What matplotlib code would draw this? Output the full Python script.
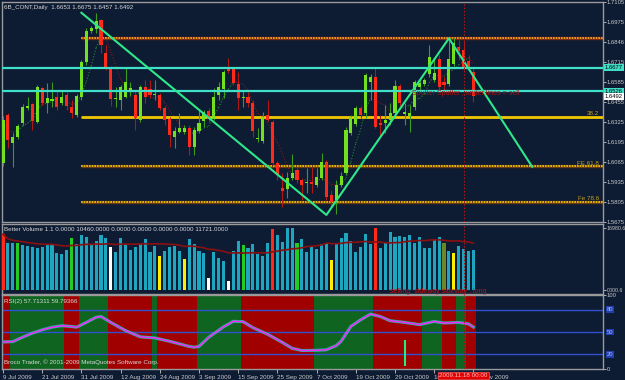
import numpy as np
import pandas as pd
import matplotlib
matplotlib.use('Agg')
import matplotlib.pyplot as plt
from matplotlib.transforms import blended_transform_factory

plt.rcParams['font.family'] = ['Liberation Sans', 'DejaVu Sans']

bg = '#0d1b33'
fs = 4.5

# daily bars, 9 Jul 2009 .. 20 Nov 2009 (index 0..96)
opens = [1.6059, 1.6371, 1.6189, 1.6228, 1.6319, 1.6416, 1.6442, 1.6325, 1.6546, 1.6449,
         1.6462, 1.6488, 1.6449, 1.6501, 1.6423, 1.6371, 1.6488, 1.6715, 1.6917, 1.6930,
         1.6988, 1.6774, 1.6676, 1.6475, 1.6468, 1.6488, 1.6533, 1.6501, 1.6338, 1.6553,
         1.6540, 1.6501, 1.6501, 1.6416, 1.6345, 1.6228, 1.6260, 1.6260, 1.6286, 1.6163,
         1.6267, 1.6332, 1.6397, 1.6345, 1.6501, 1.6540, 1.6676, 1.6670, 1.6572, 1.6481,
         1.6488, 1.6449, 1.6215, 1.6202, 1.6371, 1.6325, 1.6059, 1.5896, 1.5890, 1.5961,
         1.6013, 1.5948, 1.5929, 1.5935, 1.5916, 1.5961, 1.6065, 1.5851, 1.5818, 1.5916,
         1.5994, 1.6254, 1.6312, 1.6416, 1.6384, 1.6585, 1.6618, 1.6319, 1.6319, 1.6338,
         1.6384, 1.6559, 1.6377, 1.6364, 1.6423, 1.6553, 1.6572, 1.6637, 1.6598, 1.6735,
         1.6585, 1.6572, 1.6702, 1.6813, 1.6793, 1.6722, 1.6653]
highs = [1.6364, 1.6384, 1.6254, 1.6312, 1.6442, 1.6488, 1.6449, 1.6566, 1.6553, 1.6579,
         1.6585, 1.6533, 1.6533, 1.6520, 1.6468, 1.6507, 1.6728, 1.6936, 1.6949, 1.7034,
         1.6995, 1.6826, 1.6689, 1.6553, 1.6566, 1.6676, 1.6585, 1.6533, 1.6566, 1.6598,
         1.6598, 1.6598, 1.6514, 1.6429, 1.6358, 1.6293, 1.6384, 1.6306, 1.6306, 1.6293,
         1.6403, 1.6403, 1.6416, 1.6546, 1.6585, 1.6663, 1.6741, 1.6676, 1.6650, 1.6533,
         1.6520, 1.6468, 1.6286, 1.6390, 1.6468, 1.6338, 1.6072, 1.5994, 1.6000, 1.6117,
         1.6026, 1.5961, 1.6026, 1.6033, 1.6026, 1.6124, 1.6078, 1.5883, 1.5948, 1.6000,
         1.6293, 1.6371, 1.6429, 1.6429, 1.6643, 1.6637, 1.6683, 1.6371, 1.6436, 1.6449,
         1.6598, 1.6572, 1.6449, 1.6436, 1.6598, 1.6598, 1.6611, 1.6826, 1.6748, 1.6761,
         1.6618, 1.6871, 1.6871, 1.6858, 1.6858, 1.6761, 1.6675]
lows = [1.6039, 1.6156, 1.6033, 1.6215, 1.6306, 1.6403, 1.6273, 1.6319, 1.6436, 1.6384,
        1.6423, 1.6403, 1.6436, 1.6403, 1.6351, 1.6358, 1.6468, 1.6696, 1.6904, 1.6904,
        1.6774, 1.6663, 1.6429, 1.6423, 1.6403, 1.6481, 1.6494, 1.6273, 1.6325, 1.6449,
        1.6481, 1.6468, 1.6403, 1.6306, 1.6163, 1.6156, 1.6254, 1.6247, 1.6111, 1.6111,
        1.6254, 1.6293, 1.6325, 1.6338, 1.6468, 1.6481, 1.6644, 1.6566, 1.6403, 1.6423,
        1.6423, 1.6228, 1.6195, 1.6189, 1.6332, 1.6046, 1.5948, 1.5773, 1.5831, 1.5948,
        1.5929, 1.5818, 1.5864, 1.5864, 1.5903, 1.5948, 1.5818, 1.5773, 1.5727, 1.5903,
        1.5980, 1.6241, 1.6299, 1.6351, 1.6351, 1.6468, 1.6286, 1.6228, 1.6254, 1.6306,
        1.6371, 1.6429, 1.6306, 1.6260, 1.6403, 1.6533, 1.6559, 1.6618, 1.6585, 1.6520,
        1.6520, 1.6559, 1.6689, 1.6728, 1.6663, 1.6663, 1.6457]
closes = [1.6338, 1.6208, 1.6228, 1.6299, 1.6423, 1.6429, 1.6332, 1.6553, 1.6449, 1.6481,
          1.6475, 1.6423, 1.6488, 1.6429, 1.6384, 1.6494, 1.6715, 1.6917, 1.6936, 1.6982,
          1.6826, 1.6683, 1.6475, 1.6481, 1.6553, 1.6585, 1.6546, 1.6351, 1.6553, 1.6488,
          1.6501, 1.6507, 1.6416, 1.6338, 1.6241, 1.6267, 1.6286, 1.6286, 1.6163, 1.6273,
          1.6318, 1.6390, 1.6345, 1.6488, 1.6553, 1.6650, 1.6657, 1.6579, 1.6481, 1.6488,
          1.6449, 1.6267, 1.6221, 1.6358, 1.6338, 1.6059, 1.5980, 1.5877, 1.5961, 1.5994,
          1.5948, 1.5916, 1.5935, 1.5922, 1.5968, 1.6065, 1.5838, 1.5805, 1.5916, 1.5974,
          1.6273, 1.6358, 1.6416, 1.6371, 1.6630, 1.6618, 1.6293, 1.6306, 1.6338, 1.6384,
          1.6559, 1.6449, 1.6390, 1.6384, 1.6585, 1.6579, 1.6598, 1.6748, 1.6643, 1.6553,
          1.6566, 1.6735, 1.6839, 1.6787, 1.6683, 1.6676, 1.6492]

volumes = [15260, 12800, 12800, 12800, 12330, 12140, 11700, 11430, 11700, 12330,
           12330, 10220, 9950, 10960, 14330, 12520, 15070, 14600, 12600, 13430,
           15070, 14330, 11700, 10330, 14330, 12600, 10960, 11700, 12600, 13890,
           10330, 12060, 9400, 10690, 11700, 12060, 10770, 8410, 13890, 12600,
           10770, 10060, 3210, 10330, 8690, 8030, 2550, 10770, 13430, 12330,
           11590, 12520, 9860, 9400, 12800, 16710, 15070, 13230, 16910, 16910,
           12800, 13970, 10330, 11860, 11150, 12600, 12600, 8220, 12960, 14330,
           15700, 13510, 10330, 11700, 15340, 12520, 16980, 11590, 13230, 15810,
           14600, 14800, 14600, 15070, 12800, 14600, 11430, 11590, 13890, 14600,
           12800, 10770, 10220, 12060, 11150, 10770, 10960]
# bars that are not the usual blue one
vol_special_idx = [0, 3, 14, 22, 32, 37, 42, 46, 49, 55, 60, 67, 76, 90, 92]
vol_special_col = ['r', 'g', 'g', 'w', 'y', 'y', 'w', 'w', 'g', 'r', 'g', 'y', 'r', 'o', 'y']

# green (up) stretches of the RSI background, everything else red
green_runs = [(2, 12), (16, 21), (31, 31), (40, 48), (64, 75), (86, 89), (93, 94)]

rsi_idx = [0, 2, 4, 6, 8, 10, 12, 14, 15, 17, 19, 20, 22, 25, 28, 31, 34, 36, 38, 39,
           40, 42, 45, 47, 49, 51, 54, 57, 59, 61, 64, 66, 68, 69, 71, 73, 75, 77, 79,
           82, 85, 88, 90, 93, 95, 96]
rsi_val = [36.6, 37, 43, 48.5, 53, 56.5, 58.5, 57.5, 56.5, 63, 70, 71, 63, 52, 43.5, 42,
           37.5, 34, 30.5, 29.5, 30.5, 43, 57, 64.5, 64, 56, 47, 36, 28, 25, 25.3, 26,
           31.6, 37.4, 57.6, 66.6, 74.3, 71, 65.3, 63, 60, 64.3, 62.2, 63, 61, 56.8]

date_idx = [0, 8, 16, 24, 32, 40, 48, 56, 64, 72, 80, 88, 96]
date_labels = ['9 Jul 2009', '21 Jul 2009', '31 Jul 2009', '12 Aug 2009', '24 Aug 2009',
               '3 Sep 2009', '15 Sep 2009', '25 Sep 2009', '7 Oct 2009', '19 Oct 2009',
               '29 Oct 2009', '10 Nov 2009', '20 Nov 2009']
price_ticks = [1.7105, 1.6975, 1.6846, 1.6715, 1.6585, 1.6455, 1.6325, 1.6195,
               1.6065, 1.5935, 1.5805, 1.5675]

cyan_levels = [1.6677, 1.6526]
fib_start = 16
fib_levels = [1.6871, 1.6357, 1.6036, 1.5808]
fib_names = ['', '38.2', 'FE 61.8', 'Fe 78.6']
zz_idx = [16, 66, 91, 108]
zz_price = [1.7035, 1.5721, 1.6869, 1.6034]
cross_idx = 94

W, H = 625, 380
def rect(x0, y0, x1, y1):
    return [x0 / W, 1 - y1 / H, (x1 - x0) / W, (y1 - y0) / H]

fig = plt.figure(figsize=(6.25, 3.8), dpi=100, facecolor=bg)
ax = fig.add_axes(rect(2, 2, 603, 222))
axv = fig.add_axes(rect(2, 224, 603, 294))
axr = fig.add_axes(rect(2, 295, 603, 369))

xlim = (-1 / 4.9, 600 / 4.9)
for a in (ax, axv, axr):
    a.set_facecolor(bg)
    a.set_xlim(*xlim)
    for s in a.spines.values():
        s.set_color('#9a9a9a')
        s.set_linewidth(1)
    a.yaxis.tick_right()
    a.tick_params(axis='y', colors='#c8c8c8', labelsize=4.2, length=2, width=0.6, pad=0.6)
    a.axvline(cross_idx, color='#a01818', lw=0.8, ls=(0, (1.5, 1.5)), zorder=6)
ax.set_xticks([])
axv.set_xticks([])

# ---- price pane
o = np.array(opens); h = np.array(highs); l = np.array(lows); c = np.array(closes)
idx = np.arange(len(c))
up = c >= o
ax.vlines(idx[up], l[up], h[up], color='#3c9c1c', lw=0.8, zorder=3)
ax.vlines(idx[~up], l[~up], h[~up], color='#b01818', lw=0.8, zorder=3)
ax.bar(idx[up], np.maximum(c[up] - o[up], 0.0003), bottom=o[up], width=0.62,
       color='#72e01e', zorder=4)
ax.bar(idx[~up], np.maximum(o[~up] - c[~up], 0.0003), bottom=c[~up], width=0.62,
       color='#ff2a1a', zorder=4)

sma = pd.Series(closes).rolling(5, min_periods=1).mean().values
for i in range(1, len(sma)):
    col = '#2a8a2a' if sma[i] >= sma[i - 1] else '#8b1a1a'
    ax.plot([i - 1, i], [sma[i - 1], sma[i]], color=col, lw=0.8, ls=':', zorder=2)

for lv in cyan_levels:
    ax.axhline(lv, color='#40e0c8', lw=1.6, zorder=5)

ax.hlines(fib_levels[0], fib_start, xlim[1], color='#7a3010', lw=2.4, zorder=2)
ax.hlines(fib_levels[0], fib_start, xlim[1], color='#ffa520', lw=1.2, ls=(0, (1, 0.6)), zorder=2)
ax.hlines(fib_levels[1], fib_start, xlim[1], color='#f0c800', lw=2, zorder=2)
for lv in fib_levels[2:]:
    ax.hlines(lv, fib_start, xlim[1], color='#6a3a10', lw=2.4, zorder=2)
    ax.hlines(lv, fib_start, xlim[1], color='#f0d000', lw=1.2, ls=(0, (1, 0.6)), zorder=2)

trans = blended_transform_factory(ax.transAxes, ax.transData)
for lv, name in zip(fib_levels, fib_names):
    if name:
        ax.text(0.993, lv + 0.0006, name, transform=trans, ha='right', va='bottom',
                color='#c8a020', fontsize=fs)

ax.plot(zz_idx, zz_price, color='#2ee88a', lw=1.5, zorder=5)

ax.set_ylim(1.5675, 1.7105)
ax.set_yticks(price_ticks)
ax.set_yticklabels(['%.4f' % p for p in price_ticks])

box_kw = dict(transform=trans, fontsize=4.2, va='center', ha='left', clip_on=False, zorder=10)
ax.text(1.003, 1.6677, '1.6677', color='black',
        bbox=dict(boxstyle='square,pad=0.15', fc='#40e0c8', ec='none'), **box_kw)
ax.text(1.003, 1.6526, '1.6526', color='black',
        bbox=dict(boxstyle='square,pad=0.15', fc='#40e0c8', ec='none'), **box_kw)
ax.text(1.003, 1.6492, '1.6492', color='black',
        bbox=dict(boxstyle='square,pad=0.15', fc='white', ec='none'), **box_kw)

ax.text(0.004, 0.988, '6B_CONT,Daily  1.6653 1.6675 1.6457 1.6492', transform=ax.transAxes,
        va='top', ha='left', color='#d8d8d8', fontsize=fs)
ax.text(83.5, 1.6512, 'Sputter Sputter , under lines = sell', color='#b01010',
        fontsize=fs + 0.5, va='center', ha='left', zorder=7)

# ---- volume pane
cmap = {'c': '#1ea5c0', 'r': '#ff2a1a', 'g': '#22cc22', 'w': '#ffffff',
        'y': '#ffee00', 'o': '#6a8a20'}
vcols = ['c'] * len(volumes)
for k, col in zip(vol_special_idx, vol_special_col):
    vcols[k] = col
axv.bar(idx, volumes, width=0.62, color=[cmap[k] for k in vcols], zorder=3)
vma = pd.Series(volumes).rolling(20, min_periods=1).mean()
axv.plot(idx, vma, color='#8b1010', lw=1.2, zorder=4)
axv.set_ylim(-1095, 18075)
axv.set_yticks([16980.6, 0])
axv.set_yticklabels(['16980.6', '0000.6'])
axv.tick_params(axis='y', labelsize=3.8, pad=0.4)
axv.text(0.004, 0.95, 'Better Volume 1.1 0.0000 10460.0000 0.0000 0.0000 0.0000 0.0000 11721.0000',
         transform=axv.transAxes, va='top', ha='left', color='#d8d8d8', fontsize=fs, zorder=7)
axv.text(79, -300, 'selling  sideway sideway , long', color='#c81010', fontsize=fs + 0.5,
         va='center', ha='left', zorder=7)

# ---- RSI pane
state = np.zeros(len(c), dtype=int)
for a0, a1 in green_runs:
    state[a0:a1 + 1] = 1
for i, s in enumerate(state):
    axr.axvspan(i - 0.5, i + 0.5, color='#0f6420' if s else '#a00000', lw=0, zorder=1)
for lv in (80, 50, 20):
    axr.axhline(lv, color='#3050d0', lw=1, zorder=2)
axr.plot(rsi_idx, rsi_val, color='#30b0a0', lw=2.2, zorder=3)
axr.plot(rsi_idx, rsi_val, color='#ff20ff', lw=1, zorder=4)
axr.vlines(82, 4.7, 39.7, color='#20f080', lw=1.5, zorder=5)
axr.set_ylim(0.7, 100.1)
axr.set_yticks([100, 0])
axr.set_yticklabels(['100', '0'])
rtrans = blended_transform_factory(axr.transAxes, axr.transData)
for lv in (80, 50, 20):
    axr.text(1.006, lv, str(lv), transform=rtrans, fontsize=4.2, va='center', ha='left',
             color='#a0b0ff', clip_on=False,
             bbox=dict(boxstyle='square,pad=0.15', fc='#2040b0', ec='none'))
axr.text(0.004, 0.94, 'RSI(2) 57.71311 59.79366', transform=axr.transAxes, va='top',
         ha='left', color='#d8d8d8', fontsize=fs, zorder=7)
axr.text(0.004, 0.05, 'Broco Trader, © 2001-2009 MetaQuotes Software Corp.',
         transform=axr.transAxes, va='bottom', ha='left', color='#d8d8d8', fontsize=fs, zorder=7)

axr.set_xticks(date_idx)
axr.set_xticklabels(date_labels, ha='left')
axr.tick_params(axis='x', colors='#c8c8c8', labelsize=fs, length=3, width=0.6, pad=1)
axr.text(cross_idx, -0.09, '2009.11.18 00:00', transform=blended_transform_factory(axr.transData, axr.transAxes),
         ha='center', va='center', fontsize=fs, color='#ffc0c0', zorder=10, clip_on=False,
         bbox=dict(boxstyle='square,pad=0.15', fc='#e00000', ec='#ff5050', lw=0.5))

plt.savefig('out.png', dpi=100, facecolor=bg)
